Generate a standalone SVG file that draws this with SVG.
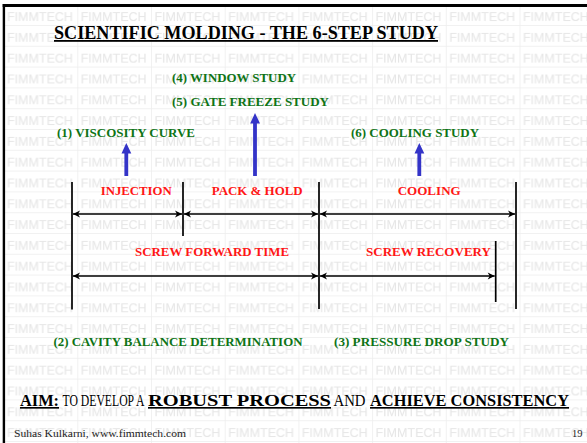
<svg xmlns="http://www.w3.org/2000/svg" width="587" height="443" viewBox="0 0 587 443">
  <style>
    .wm { font-family: "Liberation Sans", Arial, sans-serif; font-size: 12.5px; fill: #e6e6e6; }
    .serif { font-family: "Liberation Serif", "Times New Roman", serif; }
    .title { font-weight: bold; font-size: 18px; fill: #000; text-decoration: underline; }
    .step { font-weight: bold; font-size: 12.5px; fill: #0e7416; }
    .phase { font-weight: bold; font-size: 12.5px; fill: #ff1616; }
    .aim { font-size: 16.5px; fill: #000; }
    .em { font-weight: bold; text-decoration: underline; }
    .foot { font-size: 10.5px; fill: #222; }
    .tick { stroke: #000; stroke-width: 1.7; }
    .dim { stroke: #000; stroke-width: 1.4; fill: none; marker-start: url(#barb); marker-end: url(#barb); }
    .up { fill: #3434c8; }
  </style>
  <defs>
    <!-- tiled FIMMTECH background grid -->
    <pattern id="grid" patternUnits="userSpaceOnUse" x="3.6" y="4.2" width="73.7" height="20.8">
      <rect x="0" y="0" width="73.7" height="20.8" fill="#fff"/>
      <rect x="0" y="0" width="73.7" height="0.8" fill="#eeeeee"/>
      <rect x="0" y="0" width="0.8" height="20.8" fill="#eeeeee"/>
      <text class="wm" x="3.4" y="16.8" textLength="66" lengthAdjust="spacingAndGlyphs">FIMMTECH</text>
    </pattern>
    <!-- barbed arrowhead for the time spans -->
    <marker id="barb" markerUnits="userSpaceOnUse" markerWidth="8" markerHeight="8" refX="7" refY="3.5" orient="auto-start-reverse" overflow="visible">
      <path d="M0,0 L7,3.5 L0,7 L2,3.5 z" fill="#000"/>
    </marker>
  </defs>

  <rect width="587" height="443" fill="#fff"/>
  <rect x="3.6" y="4.2" width="584" height="440" fill="url(#grid)"/>

  <!-- slide frame -->
  <rect x="2.7" y="4" width="584.3" height="3" fill="#000"/>
  <rect x="2.7" y="4" width="2.4" height="439" fill="#000"/>

  <g id="title">
    <text class="serif title" x="54" y="39" textLength="384" lengthAdjust="spacingAndGlyphs">SCIENTIFIC MOLDING  - THE 6-STEP STUDY</text>
  </g>

  <g id="step-window">
    <text class="serif step" x="172" y="82" textLength="124" lengthAdjust="spacingAndGlyphs">(4) WINDOW STUDY</text>
  </g>
  <g id="step-gate-freeze">
    <text class="serif step" x="172" y="105.5" textLength="157" lengthAdjust="spacingAndGlyphs">(5) GATE FREEZE STUDY</text>
  </g>
  <g id="step-viscosity">
    <text class="serif step" x="57" y="137" textLength="138" lengthAdjust="spacingAndGlyphs">(1) VISCOSITY CURVE</text>
  </g>
  <g id="step-cooling">
    <text class="serif step" x="351" y="137" textLength="128" lengthAdjust="spacingAndGlyphs">(6) COOLING STUDY</text>
  </g>

  <g id="phase-injection">
    <text class="serif phase" x="100.7" y="194.5" textLength="71" lengthAdjust="spacingAndGlyphs">INJECTION</text>
  </g>
  <g id="phase-pack-hold">
    <text class="serif phase" x="211.7" y="194.5" textLength="91" lengthAdjust="spacingAndGlyphs">PACK &amp; HOLD</text>
  </g>
  <g id="phase-cooling">
    <text class="serif phase" x="397.7" y="194.5" textLength="63" lengthAdjust="spacingAndGlyphs">COOLING</text>
  </g>
  <g id="span-screw-forward">
    <text class="serif phase" x="135" y="256" textLength="154" lengthAdjust="spacingAndGlyphs">SCREW FORWARD TIME</text>
  </g>
  <g id="span-screw-recovery">
    <text class="serif phase" x="366" y="256" textLength="125" lengthAdjust="spacingAndGlyphs">SCREW RECOVERY</text>
  </g>

  <g id="step-cavity-balance">
    <text class="serif step" x="53.5" y="346" textLength="249" lengthAdjust="spacingAndGlyphs">(2) CAVITY BALANCE DETERMINATION</text>
  </g>
  <g id="step-pressure-drop">
    <text class="serif step" x="334" y="346" textLength="175" lengthAdjust="spacingAndGlyphs">(3) PRESSURE DROP STUDY</text>
  </g>

  <g id="connectors">
    <!-- phase boundaries -->
    <line class="tick" x1="72" y1="182" x2="72" y2="309.5"/>
    <line class="tick" x1="183" y1="182" x2="183" y2="236"/>
    <line class="tick" x1="319" y1="182" x2="319" y2="309"/>
    <line class="tick" x1="516" y1="182" x2="516" y2="309"/>
    <line class="tick" x1="495.7" y1="241" x2="495.7" y2="302"/>
    <!-- phase spans -->
    <line class="dim" x1="73" y1="214" x2="182" y2="214"/>
    <line class="dim" x1="184" y1="214" x2="318" y2="214"/>
    <line class="dim" x1="320" y1="214" x2="515" y2="214"/>
    <line class="dim" x1="73" y1="276" x2="318" y2="276"/>
    <line class="dim" x1="320" y1="276" x2="494.7" y2="276"/>
    <!-- study pointers -->
    <path class="up" d="M124.4,176 L124.4,153.5 L121.5,153.5 L126.3,143 L131.3,153.5 L128.2,153.5 L128.2,176 Z"/>
    <path class="up" d="M253.1,176 L253.1,123.5 L250.2,123.5 L255,113 L260,123.5 L256.9,123.5 L256.9,176 Z"/>
    <path class="up" d="M417.4,176 L417.4,153.5 L414.5,153.5 L419.3,143 L424.3,153.5 L421.2,153.5 L421.2,176 Z"/>
  </g>

  <g id="aim">
    <text class="serif aim em" x="20" y="406" textLength="39" lengthAdjust="spacingAndGlyphs">AIM:</text>
    <!-- the plain words are set condensed -->
    <text class="serif aim" transform="translate(62.5,406) scale(0.7,1)" x="0" y="0" textLength="117" lengthAdjust="spacingAndGlyphs">TO DEVELOP A</text>
    <text class="serif aim em" x="148" y="406" textLength="183" lengthAdjust="spacingAndGlyphs">ROBUST PROCESS</text>
    <text class="serif aim" transform="translate(333.5,406) scale(0.9,1)" x="0" y="0" textLength="35.5" lengthAdjust="spacingAndGlyphs">AND</text>
    <text class="serif aim em" x="370" y="406" textLength="199" lengthAdjust="spacingAndGlyphs">ACHIEVE CONSISTENCY</text>
  </g>

  <g id="footer">
    <text class="serif foot" x="14" y="437" textLength="172" lengthAdjust="spacingAndGlyphs">Suhas Kulkarni, www.fimmtech.com</text>
    <text class="serif foot" x="572" y="436.5" textLength="10.5" lengthAdjust="spacingAndGlyphs">19</text>
  </g>
</svg>
